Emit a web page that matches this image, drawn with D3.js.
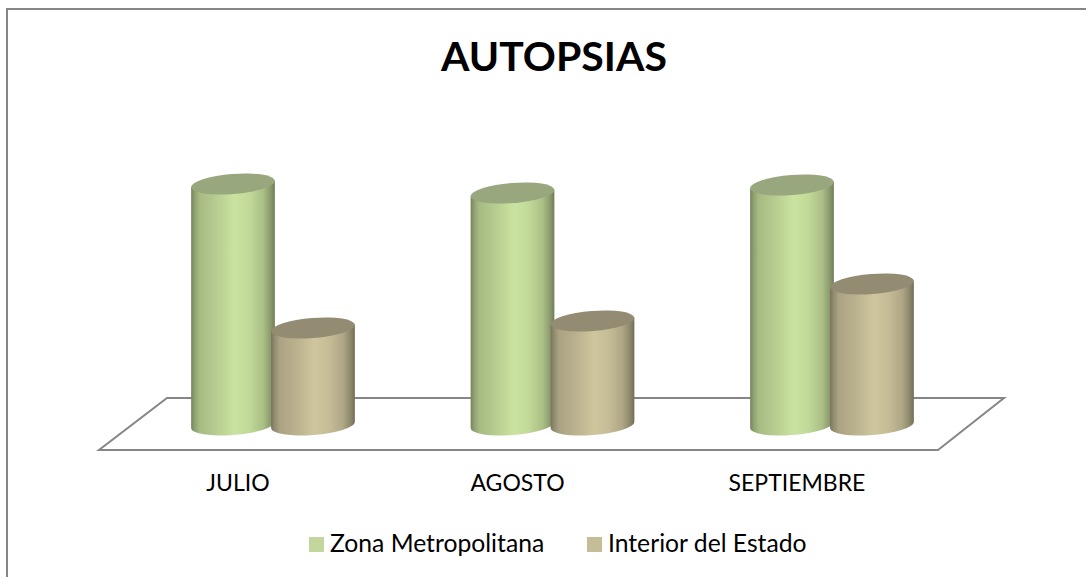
<!DOCTYPE html>
<html><head><meta charset="utf-8">
<script src="https://cdn.jsdelivr.net/npm/d3@7"></script>
<style>html,body{margin:0;padding:0;background:#fff}svg{display:block}text{font-family:"Lato","Open Sans",sans-serif;fill:#000}</style>
</head><body><svg id="c" width="1086" height="577"></svg>
<script>
const titleText = "AUTOPSIAS";
const categories = ["JULIO","AGOSTO","SEPTIEMBRE"];
const seriesNames = ["Zona Metropolitana","Interior del Estado"];
const metro = [241,232,240];
const interior = [97,104,141];
const seriesValues = [metro, interior];
const baseColors = ["#cbe3a0","#cfc69e"];
const topColors = ["#98a77e","#938c72"];
const swatchColors = ["#c3d69b","#c4bd97"];

const svg = d3.select("#c");
const W = 1086, H = 577;
svg.append("path").attr("d",`M7,${H}V9H${W}`).attr("fill","none").attr("stroke","#868686").attr("stroke-width",2);
svg.append("text").attr("x",554).attr("y",71).attr("text-anchor","middle").attr("font-size",41).attr("font-weight",700).text(titleText);

const defs = svg.append("defs");
baseColors.forEach((c,i)=>{
  const g = defs.append("linearGradient").attr("id","g"+i);
  const col = d3.color(c);
  const stops=[[0,0.58],[0.04,0.7],[0.1,0.82],[0.3,0.9],[0.52,1],[0.7,0.95],[0.86,0.84],[0.95,0.68],[1,0.55]];
  stops.forEach(([o,k])=>g.append("stop").attr("offset",o)
    .attr("stop-color",d3.rgb(col.r*k,col.g*k,col.b*k)));
});

const x0 = d3.scaleBand().domain(categories).range([133.25,971.75]);
const x1 = d3.scaleBand().domain(d3.range(2)).range([-80,80]);
const y = d3.scaleLinear().domain([0,300]).range([425,125]);

const floorTop = y(27), floorBot = y(-25);
svg.append("path").attr("d",`M167,${floorTop}H1004L938,${floorBot}H99Z`)
  .attr("fill","#fff").attr("stroke","#868686").attr("stroke-width",2);

const rx=42, ry=10, tilt=-4.5*Math.PI/180;
const tx=rx*Math.cos(tilt), tyv=rx*Math.sin(tilt);
categories.forEach((cat,ci)=>{
  const mid = x0(cat)+x0.bandwidth()/2;
  [0,1].forEach(si=>{
    const cx = mid + x1(si) + x1.bandwidth()/2;
    const v = seriesValues[si][ci];
    const yt=y(v), yb=y(0);
    const g=svg.append("g");
    g.append("path").attr("fill",`url(#g${si})`).attr("d",
      `M${cx-tx},${yt-tyv}L${cx+tx},${yt+tyv}L${cx+tx},${yb+tyv}`+
      `A${rx},${ry} -4.5 0 1 ${cx-tx},${yb-tyv}Z`);
    g.append("ellipse").attr("rx",rx).attr("ry",ry)
      .attr("transform",`translate(${cx},${yt}) rotate(-4.5)`)
      .attr("fill",topColors[si]);
  });
  svg.append("text").attr("x",mid-35).attr("y",491).attr("text-anchor","middle").attr("font-size",23).text(cat);
});

const lx=[309,587], tx2=[330,608];
seriesNames.forEach((n,i)=>{
  svg.append("rect").attr("x",lx[i]).attr("y",537).attr("width",15).attr("height",15).attr("fill",swatchColors[i]);
  svg.append("text").attr("x",tx2[i]).attr("y",552).attr("font-size",24.7).text(n);
});
</script></body></html>
